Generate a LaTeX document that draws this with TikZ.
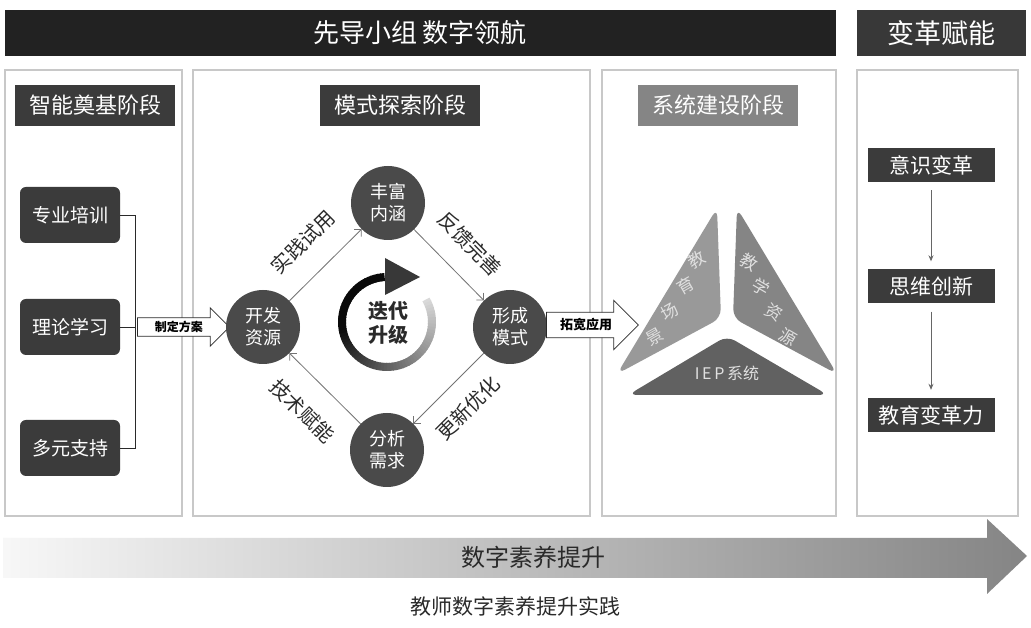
\documentclass[tikz,border=0pt]{standalone}
\usepackage{fontspec}
\setmainfont{Noto Sans CJK SC}
\usetikzlibrary{shapes.arrows,arrows.meta}
\definecolor{barblack}{HTML}{222222}
\definecolor{boxdark}{HTML}{3B3B3B}
\definecolor{boxmid}{HTML}{858585}
\definecolor{rim}{HTML}{C8C8C8}
\definecolor{ball}{HTML}{4A4A4A}
\definecolor{ink}{HTML}{2A2A2A}
\tikzset{
  panel/.style={draw=rim, line width=1.2pt, fill=white},
  phase/.style={fill=#1, text=white, minimum width=160, minimum height=41, inner sep=0pt,
    font=\fontsize{22}{26}\selectfont},
  basebox/.style={fill=boxdark, text=white, rounded corners=6pt, minimum width=100,
    minimum height=56, inner sep=0pt, font=\fontsize{19}{22}\selectfont},
  ball/.style={circle, fill=ball, text=white, minimum size=74, inner sep=0pt, align=center,
    font=\fontsize{18}{22}\selectfont},
  hollow/.style={single arrow, draw=ink, fill=white, line width=0.8pt,
    single arrow head extend=#1, anchor=tail},
  cyc/.style={draw=black!55, line width=0.8pt, -{Straight Barb[length=5pt]}},
  cyclabel/.style={sloped, font=\fontsize{20}{22}\selectfont, text=ink},
  goal/.style={fill=boxdark, text=white, minimum width=127, minimum height=34, inner sep=0pt,
    font=\fontsize{21}{24}\selectfont},
  piece/.style={fill=#1, rounded corners=9pt},
  glyph/.style={text=white!88!black, font=\fontsize{17}{17}\selectfont, inner sep=0pt},
}
\begin{document}
\begin{tikzpicture}[x=1pt, y=1pt]
\useasboundingbox (0,0) rectangle (1031,628);
\fill[white] (0,0) rectangle (1031,628);

% top bars
\fill[barblack] (5,572) rectangle (836,618);
\node[text=white, font=\fontsize{26}{30}\selectfont] (lead) at (420,595) {先导小组 数字领航};
\fill[barblack!90!white] (857,572) rectangle (1026,618);
\node[text=white, font=\fontsize{27}{30}\selectfont] (power) at (941,595) {变革赋能};

% four panels
\draw[panel] (5,112) rectangle (182,558);
\draw[panel] (193,112) rectangle (590,558);
\draw[panel] (602,112) rectangle (836,558);
\draw[panel] (857,112) rectangle (1018,558);

\node[phase=boxdark] (p1) at (95,522.5) {智能奠基阶段};
\node[phase=boxdark] (p2) at (400,522.5) {模式探索阶段};
\node[phase=boxmid] (p3) at (718,522.5) {系统建设阶段};

% first stage
\node[basebox] (zy) at (70,413) {专业培训};
\node[basebox] (ll) at (70,301) {理论学习};
\node[basebox] (dy) at (70,180) {多元支持};
\coordinate (jt) at (135,413);
\coordinate (jb) at (135,180);
\draw[ink, line width=0.8pt] (zy.east) -- (jt) -- (jb) -- (dy.east);
\draw[ink, line width=0.8pt] (ll.east) -- (ll.east -| jt);
\node[hollow=10pt, minimum height=92, inner sep=3pt, font=\fontsize{12}{14}\selectfont\bfseries]
  (fa) at ([xshift=2pt]ll.east -| jt) {制定方案};

% second stage: the cycle
\node[ball] (kf) at (263,301) {开发\\资源};
\node[ball] (fh) at (388,425) {丰富\\内涵};
\node[ball] (xc) at (510,301) {形成\\模式};
\node[ball] (fx) at (387,178) {分析\\需求};
\draw[cyc] (kf) -- node[cyclabel, above=19pt] {实践试用} (fh);
\draw[cyc] (fh) -- node[cyclabel, above=17pt] {反馈完善} (xc);
\draw[cyc] (xc) -- node[cyclabel, below=15pt] {更新优化} (fx);
\draw[cyc] (fx) -- node[cyclabel, below=19pt] {技术赋能} (kf);

\coordinate (ring) at (387,306);
\foreach \a in {30,26,...,-262} {
  \pgfmathsetmacro\shadeval{min(96, 15 + (30-\a)/210*85)}
  \draw[line width=8pt, color=black!\shadeval] (ring) ++(\a:45) arc[start angle=\a, end angle=\a-5, radius=45];
}
\fill[black!78] (385,370) -- (420,351) -- (385,333) -- cycle;
\node[align=center, text=ink, font=\fontsize{20}{24}\selectfont\bfseries] (iter) at (388,305) {迭代\\升级};

\node[hollow=12pt, minimum height=92, inner sep=6pt, font=\fontsize{13}{15}\selectfont\bfseries]
  (tk) at (546,303) {拓宽应用};

% third stage
\fill[piece=black!40] (717,420) -- (617,254) -- (721,310) -- cycle;
\fill[piece=black!48] (737,420) -- (837,254) -- (733,310) -- cycle;
\fill[piece=black!62] (628,233) -- (828,233) -- (727,292) -- cycle;
\node[glyph, rotate=30] (l1) at (697,368) {教};
\node[glyph, rotate=30] (l2) at (686,342) {育};
\node[glyph, rotate=30] (l3) at (670,316) {场};
\node[glyph, rotate=30] (l4) at (655,291) {景};
\node[glyph, rotate=-30] (r1) at (749,366) {教};
\node[glyph, rotate=-30] (r2) at (761,341) {学};
\node[glyph, rotate=-30] (r3) at (774,316) {资};
\node[glyph, rotate=-30] (r4) at (788,291) {源};
\node[glyph, font=\fontsize{16}{16}\selectfont] (iep) at (727,255) {I\,E\,P\,系统};

% fourth stage
\node[goal] (ys) at (931,463) {意识变革};
\node[goal] (sw) at (931,341.5) {思维创新};
\node[goal] (jy) at (931,213) {教育变革力};
\draw[black!60, line width=0.8pt, -{Stealth[length=6pt, width=5pt]}, shorten <=8pt, shorten >=8pt] (ys) -- (sw);
\draw[black!60, line width=0.8pt, -{Stealth[length=6pt, width=5pt]}, shorten <=8pt, shorten >=8pt] (sw) -- (jy);

% bottom arrow
\shade[left color=black!3, right color=black!48]
  (3,90) -- (987,90) -- (987,109) -- (1027,72) -- (987,34) -- (987,50) -- (3,50) -- cycle;
\node[text=ink, font=\fontsize{24}{28}\selectfont] (ts) at (533,71) {数字素养提升};
\node[text=ink, font=\fontsize{21}{24}\selectfont] (cap) at (515,21) {教师数字素养提升实践};
\end{tikzpicture}
\end{document}
